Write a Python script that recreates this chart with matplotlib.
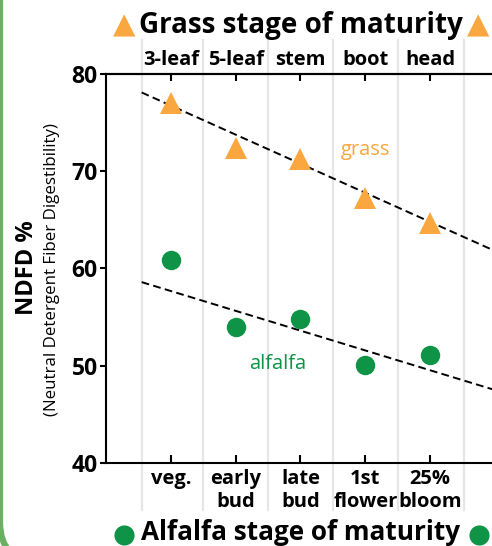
"""NDFD vs stage of maturity for grass and alfalfa."""

import matplotlib.pyplot as plt
import matplotlib.transforms as mtransforms
from matplotlib.patches import FancyBboxPatch
from matplotlib.lines import Line2D

plt.rcParams["font.family"] = ["Open Sans", "DejaVu Sans"]

# %% data
stage_pos = [1, 2, 3, 4, 5]
grass_stages = ["3-leaf", "5-leaf", "stem", "boot", "head"]
alfalfa_stages = ["veg.", "early\nbud", "late\nbud", "1st\nflower", "25%\nbloom"]
grass_ndfd = [77.0, 72.4, 71.3, 67.3, 64.7]
alfalfa_ndfd = [60.9, 54.0, 54.8, 50.1, 51.1]
# dashed trend lines, end points
trend_x = [0.55, 6.0]
grass_trend = [78.1, 61.8]
alfalfa_trend = [58.6, 47.5]

ORANGE = "#F9A73E"
GREEN = "#0F9347"
FRAME = "#6BB163"

W, H = 492, 546
fig = plt.figure(figsize=(W / 100, H / 100), dpi=100)


def fx(px):
    return px / W


def fy(py):
    return 1 - py / H


# green rounded frame, only its left side and corner show
fig.patches.append(FancyBboxPatch((0.0, -0.16), 6.0, 7.0,
                                  boxstyle="round,pad=0,rounding_size=0.4",
                                  transform=fig.dpi_scale_trans, fill=False,
                                  edgecolor=FRAME, linewidth=4.5))

ax = fig.add_axes([fx(106), fy(463), 1 - fx(106), fy(74) - fy(463)])
ax.set_xlim(0, (W - 105) / 65)
ax.set_ylim(40, 80)

# light separators running through the label bands
sep = mtransforms.blended_transform_factory(ax.transData, fig.transFigure)
for gx in [0.55, 1.5, 2.5, 3.5, 4.5, 5.52]:
    fig.add_artist(Line2D([gx, gx], [fy(510), fy(40)], transform=sep,
                          color="#E6E6E6", linewidth=1.6, zorder=0))

ax.plot(trend_x, grass_trend, ls=(0, (4, 2.2)), color="black", lw=1.4, zorder=2)
ax.plot(trend_x, alfalfa_trend, ls=(0, (4, 2.2)), color="black", lw=1.4, zorder=2)
ax.plot(stage_pos, grass_ndfd, ls="none", marker="^", ms=16, color=ORANGE,
        markeredgewidth=0, zorder=3)
ax.plot(stage_pos, alfalfa_ndfd, ls="none", marker="o", ms=14, color=GREEN,
        markeredgewidth=0, zorder=3)

ax.text(4.0, 72.2, "grass", color=ORANGE, fontsize=14.5, ha="center", va="center")
ax.text(2.65, 50.2, "alfalfa", color=GREEN, fontsize=14.5, ha="center", va="center")

for s in ["top", "bottom", "left"]:
    ax.spines[s].set_linewidth(1.5)
ax.spines["right"].set_visible(False)
ax.patch.set_alpha(0)

ax.set_yticks([40, 50, 60, 70, 80])
ax.tick_params(axis="y", labelsize=16.5, width=1.5, length=4.5, pad=1.5)
for lab in ax.get_yticklabels():
    lab.set_fontweight("bold")
ax.set_xticks(stage_pos, alfalfa_stages)
ax.tick_params(axis="x", direction="in", labelsize=14.5, width=1.5, length=6,
               pad=4.5)
for lab in ax.get_xticklabels():
    lab.set_linespacing(1.2)
    lab.set_verticalalignment("top")
    lab.set_fontweight("bold")

top = ax.secondary_xaxis("top")
top.set_xticks(stage_pos, grass_stages)
top.tick_params(direction="in", labelsize=14.5, width=1.5, length=5, pad=3)
top.spines["top"].set_linewidth(1.5)
for lab in top.get_xticklabels():
    lab.set_fontweight("bold")

fig.text(fx(27), fy(268), "NDFD %", rotation=90, fontsize=17, fontweight="bold",
         ha="center", va="center")
fig.text(fx(52), fy(269), "(Neutral Detergent Fiber Digestibility)", rotation=90,
         fontsize=12.2, ha="center", va="center")

fig.text(fx(301), fy(33), "Grass stage of maturity", fontsize=20,
         fontweight="bold", ha="center", va="baseline")
for px in (124, 478):
    fig.text(fx(px), fy(33), "\u25b2", color=ORANGE, fontsize=21,
             family="DejaVu Sans", ha="center", va="baseline")

fig.text(fx(301), fy(540), "Alfalfa stage of maturity", fontsize=18.8,
         fontweight="bold", ha="center", va="baseline")
for px in (124, 479):
    fig.add_artist(Line2D([fx(px)], [fy(535)], transform=fig.transFigure,
                          marker="o", ms=14.5, color=GREEN, markeredgewidth=0))

fig.savefig("out.png", dpi=100)
